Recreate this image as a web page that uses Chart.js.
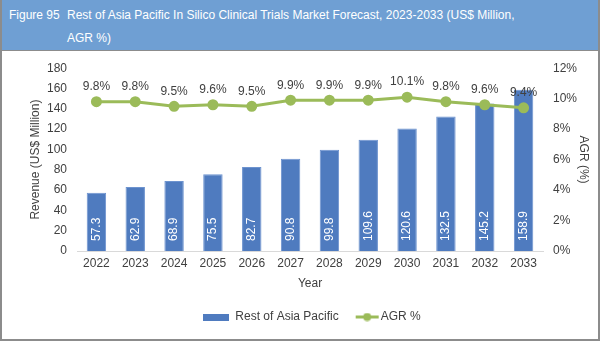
<!DOCTYPE html>
<html>
<head>
<meta charset="utf-8">
<script src="https://cdn.jsdelivr.net/npm/chart.js@4/dist/chart.umd.min.js"></script>
<style>
    body { margin: 0; background: #fff; }
    .frame {
        position: relative; width: 600px; height: 341px;
        box-sizing: border-box; border: 2px solid #8c8c8c; border-top: 0;
        font-family: "Liberation Sans", Arial, sans-serif; overflow: hidden;
    }
    .header {
        height: 50px; background: #6f9fd3; border-bottom: 1px solid #8c8c8c;
        color: #fff; font-size: 12px; line-height: 23px; position: relative;
    }
    .header .fig { position: absolute; left: 7px; top: 4px; }
    .header .ttl { position: absolute; left: 65px; top: 4px; right: 60px; }
    .wrap { position: absolute; left: 0; top: 51px; width: 596px; height: 288px; }
</style>
</head>
<body>
<div class="frame">
    <div class="header">
        <span class="fig">Figure 95</span>
        <span class="ttl">Rest of Asia Pacific In Silico Clinical Trials Market Forecast, 2023-2033 (US$ Million, AGR %)</span>
    </div>
    <div class="wrap"><canvas id="chart" width="596" height="288"></canvas></div>
</div>
<script>
const years = ['2022', '2023', '2024', '2025', '2026', '2027', '2028', '2029', '2030', '2031', '2032', '2033'];
const revenue = [57.3, 62.9, 68.9, 75.5, 82.7, 90.8, 99.8, 109.6, 120.6, 132.5, 145.2, 158.9];
const agr = [9.8, 9.8, 9.5, 9.6, 9.5, 9.9, 9.9, 9.9, 10.1, 9.8, 9.6, 9.4];

const barColor = '#4f7bbf';
const lineColor = '#9bbb59';
const textColor = '#404040';
const fontFamily = '"Liberation Sans", Arial, sans-serif';
const font12 = { size: 12, family: fontFamily };

// legend icons
function barIcon() {
    const c = document.createElement('canvas');
    c.width = 26; c.height = 7;
    const g = c.getContext('2d');
    g.fillStyle = barColor;
    g.fillRect(0, 0, 26, 7);
    return c;
}
function lineIcon() {
    const c = document.createElement('canvas');
    c.width = 40; c.height = 9;
    const g = c.getContext('2d');
    g.strokeStyle = lineColor; g.lineWidth = 3;
    g.beginPath(); g.moveTo(14, 4.5); g.lineTo(37, 4.5); g.stroke();
    g.fillStyle = lineColor;
    g.beginPath(); g.arc(25.5, 4.5, 4, 0, Math.PI * 2); g.fill();
    return c;
}
const icons = [barIcon(), lineIcon()];

// value labels
const labelPlugin = {
    id: 'valueLabels',
    afterUpdate(chart) {
        // legend sits a little right of centre in the original
        chart.legend.left += 12;
        chart.legend.right += 12;
    },
    afterDatasetsDraw(chart) {
        const ctx = chart.ctx;
        ctx.save();
        ctx.font = '12px ' + fontFamily;
        chart.getDatasetMeta(1).data.forEach((bar, i) => {
            ctx.save();
            ctx.translate(bar.x, bar.base - 10);
            ctx.rotate(-Math.PI / 2);
            ctx.fillStyle = '#fff';
            ctx.textAlign = 'left';
            ctx.textBaseline = 'middle';
            ctx.fillText(revenue[i].toFixed(1), 0, 0);
            ctx.restore();
        });
        ctx.fillStyle = textColor;
        ctx.textAlign = 'center';
        ctx.textBaseline = 'middle';
        chart.getDatasetMeta(0).data.forEach((pt, i) => {
            ctx.fillText(agr[i].toFixed(1) + '%', pt.x, pt.y - 15);
        });
        ctx.restore();
    }
};

new Chart(document.getElementById('chart').getContext('2d'), {
    data: {
        labels: years,
        datasets: [{
            type: 'line',
            label: 'AGR %',
            data: agr,
            yAxisID: 'y1',
            borderColor: lineColor,
            backgroundColor: lineColor,
            borderWidth: 3,
            pointRadius: 4,
            pointHoverRadius: 4,
            order: 0
        }, {
            type: 'bar',
            label: 'Rest of Asia Pacific',
            data: revenue,
            yAxisID: 'y',
            backgroundColor: barColor,
            borderColor: '#6d93cf',
            borderWidth: 1,
            categoryPercentage: 1,
            barPercentage: 0.5,
            order: 1
        }]
    },
    options: {
        responsive: false,
        animation: false,
        layout: { padding: { top: 17, left: 0, right: 0, bottom: 6 } },
        plugins: {
            tooltip: { enabled: false },
            legend: {
                position: 'bottom',
                labels: {
                    usePointStyle: true,
                    pointStyleWidth: 26,
                    color: textColor,
                    font: font12,
                    padding: 10,
                    generateLabels(chart) {
                        return [1, 0].map((di, k) => ({
                            text: chart.data.datasets[di].label,
                            pointStyle: icons[k],
                            fillStyle: chart.data.datasets[di].backgroundColor,
                            strokeStyle: chart.data.datasets[di].backgroundColor,
                            lineWidth: 0,
                            datasetIndex: di,
                            fontColor: textColor
                        }));
                    }
                }
            }
        },
        scales: {
            x: {
                grid: { display: false, drawTicks: false },
                border: { color: '#d9d9d9', width: 1 },
                ticks: { color: textColor, font: font12, padding: 5, maxRotation: 0 },
                title: { display: true, text: 'Year', color: textColor, font: font12, padding: { top: 4, bottom: 10 } },
                afterFit(scale) { scale.height = 50; }
            },
            y: {
                position: 'left',
                min: 0, max: 180,
                grid: { display: false, drawTicks: false },
                border: { display: false },
                ticks: { stepSize: 20, color: textColor, font: font12, padding: 10 },
                title: { display: true, text: 'Revenue (US$ Million)', color: textColor, font: font12, padding: { top: 26, bottom: 0 } },
                afterFit(scale) { scale.width = 75; }
            },
            y1: {
                position: 'right',
                min: 0, max: 12,
                grid: { display: false, drawTicks: false },
                border: { display: false },
                ticks: { stepSize: 2, color: textColor, font: font12, padding: 10,
                    callback: v => v + '%' },
                title: { display: true, text: 'AGR (%)', color: textColor, font: font12, padding: { top: 7, bottom: 0 } },
                afterFit(scale) { scale.width = 55; }
            }
        }
    },
    plugins: [labelPlugin]
});
</script>
</body>
</html>
